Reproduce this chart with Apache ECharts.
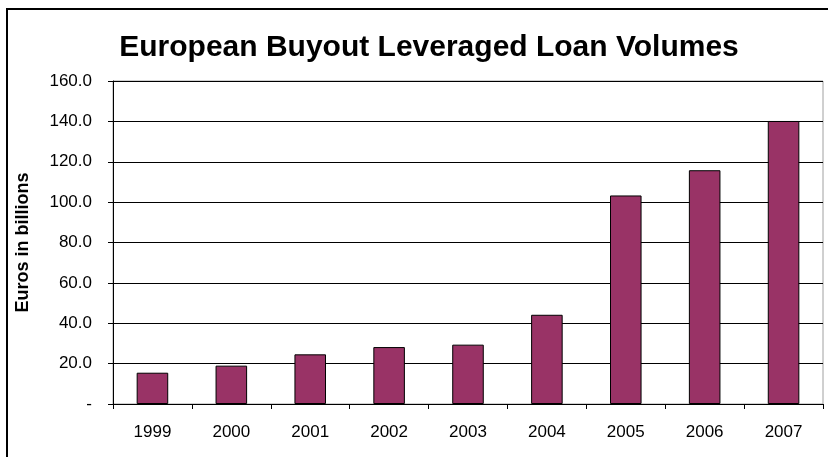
<!DOCTYPE html>
<html>
<head>
<meta charset="utf-8">
<script src="https://cdn.jsdelivr.net/npm/echarts@6/dist/echarts.min.js"></script>
<style>
  html, body { margin: 0; padding: 0; background: #fff; }
  #chart { width: 828px; height: 457px; }
</style>
</head>
<body>
<div id="chart"></div>
<script>
// Annual volumes, euros in billions
const years = ['1999', '2000', '2001', '2002', '2003', '2004', '2005', '2006', '2007'];
const loanVolumes = [15.5, 19.0, 24.6, 28.2, 29.4, 44.2, 103.3, 115.8, 140.2];
const yTicks = [0, 20, 40, 60, 80, 100, 120, 140, 160];

const FONT = '"Liberation Sans", Arial, sans-serif';

const chart = echarts.init(document.getElementById('chart'), null, { renderer: 'canvas' });

chart.setOption({
  animation: false,
  backgroundColor: '#ffffff',
  title: {
    text: 'European Buyout Leveraged Loan Volumes',
    left: 424,
    top: 28,
    textAlign: 'center',
    textStyle: { fontFamily: FONT, fontSize: 30, fontWeight: 'bold', color: '#000' }
  },
  graphic: [{
    type: 'rect',
    shape: { x: 7, y: 9, width: 900, height: 500 },
    style: { fill: 'none', stroke: '#000', lineWidth: 2 },
    silent: true
  }],
  grid: {
    left: 113, right: 5, top: 81, bottom: 53,
    show: true, borderColor: '#a0a0a0', borderWidth: 1, backgroundColor: 'transparent'
  },
  xAxis: {
    type: 'category',
    data: years,
    axisLine: { lineStyle: { color: '#000', width: 1 } },
    axisTick: { show: true, length: 5, lineStyle: { color: '#000' } },
    axisLabel: { color: '#000', fontFamily: FONT, fontSize: 17, margin: 20 }
  },
  yAxis: {
    type: 'value',
    min: yTicks[0],
    max: yTicks[yTicks.length - 1],
    interval: yTicks[1] - yTicks[0],
    name: 'Euros in billions',
    nameLocation: 'middle',
    nameGap: 81,
    nameTextStyle: { fontFamily: FONT, fontSize: 18, fontWeight: 'bold', color: '#000' },
    axisLine: { show: true, lineStyle: { color: '#000', width: 1 } },
    axisTick: { show: true, length: 5, lineStyle: { color: '#000' } },
    axisLabel: {
      color: '#000', fontFamily: FONT, fontSize: 17, margin: 21,
      formatter: v => (v === 0 ? '-' : v.toFixed(1))
    },
    splitLine: { show: true, lineStyle: { color: '#000', width: 1 } }
  },
  series: [{
    type: 'bar',
    data: loanVolumes,
    barWidth: '40%',
    itemStyle: { color: '#993366', borderColor: '#000', borderWidth: 1 }
  }]
});
</script>
</body>
</html>
